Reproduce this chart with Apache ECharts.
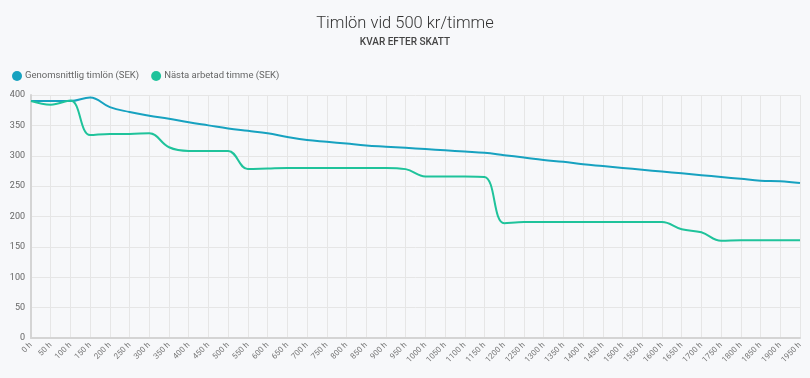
<!DOCTYPE html>
<html><head><meta charset="utf-8">
<script src="https://cdn.jsdelivr.net/npm/echarts@6/dist/echarts.min.js"></script>
<style>html,body{margin:0;padding:0;background:#f7f8fa;}#c{width:810px;height:378px;}</style>
</head><body><div id="c"></div>
<script>
const categories = ["0 h","50 h","100 h","150 h","200 h","250 h","300 h","350 h","400 h","450 h","500 h","550 h","600 h","650 h","700 h","750 h","800 h","850 h","900 h","950 h","1000 h","1050 h","1100 h","1150 h","1200 h","1250 h","1300 h","1350 h","1400 h","1450 h","1500 h","1550 h","1600 h","1650 h","1700 h","1750 h","1800 h","1850 h","1900 h","1950 h"];
const avgWage = [390,390,390,396,380,372,366,361,355,350,345,341,337,331,326,323,320,317,315,313,311,309,307,305,301,297,293,290,286,283,280,277,274,271,268,265,262,259,258,255];
const nextHour = [390,384,391,334,336,336,337,314,308,308,308,278,279,280,280,280,280,280,280,278,266,266,266,265,189,191,191,191,191,191,191,191,191,179,174,160,161,161,161,161];
const yTicks = {min:0,max:400,interval:50};
const seriesNames = ["Genomsnittlig timlön (SEK)","Nästa arbetad timme (SEK)"];

const chart = echarts.init(document.getElementById('c'));
chart.setOption({
  backgroundColor:'#f7f8fa',
  animation:false,
  title:{
    text:'Timlön vid 500 kr/timme',
    subtext:'KVAR EFTER SKATT',
    left:'center', top:10, itemGap:5,
    textStyle:{fontFamily:'Roboto',fontWeight:300,fontSize:16.5,color:'#333'},
    subtextStyle:{fontFamily:'Roboto',fontWeight:500,fontSize:10,color:'#444'}
  },
  legend:{
    left:7, top:66, icon:'circle', itemWidth:10, itemHeight:10, itemGap:12,
    textStyle:{fontFamily:'Roboto',fontSize:9.5,color:'#666',padding:[0,0,0,-2]},
    data:seriesNames
  },
  grid:{left:31,right:10,top:95,bottom:40},
  xAxis:{
    type:'category', data:categories, boundaryGap:false,
    axisLine:{lineStyle:{color:'#d4d4d4',width:2}},
    axisTick:{show:false},
    axisLabel:{rotate:45,fontSize:8,color:'#777',fontFamily:'Roboto',margin:6,interval:0},
    splitLine:{show:true,lineStyle:{color:'#e6e6e6',width:1}}
  },
  yAxis:{
    type:'value', min:yTicks.min, max:yTicks.max, interval:yTicks.interval,
    axisLine:{show:true,lineStyle:{color:'#d4d4d4',width:2}},
    axisTick:{show:false},
    axisLabel:{fontSize:9,color:'#666',fontFamily:'Roboto',margin:6},
    splitLine:{lineStyle:{color:'#e6e6e6',width:1}}
  },
  series:[
    {name:seriesNames[0],type:'line',data:avgWage,smooth:0.4,showSymbol:false,
     itemStyle:{color:'#17a2c0'},lineStyle:{width:2,color:'#17a2c0'}},
    {name:seriesNames[1],type:'line',data:nextHour,smooth:0.4,showSymbol:false,
     itemStyle:{color:'#1fc39b'},lineStyle:{width:2,color:'#1fc39b'}}
  ]
});
</script></body></html>
